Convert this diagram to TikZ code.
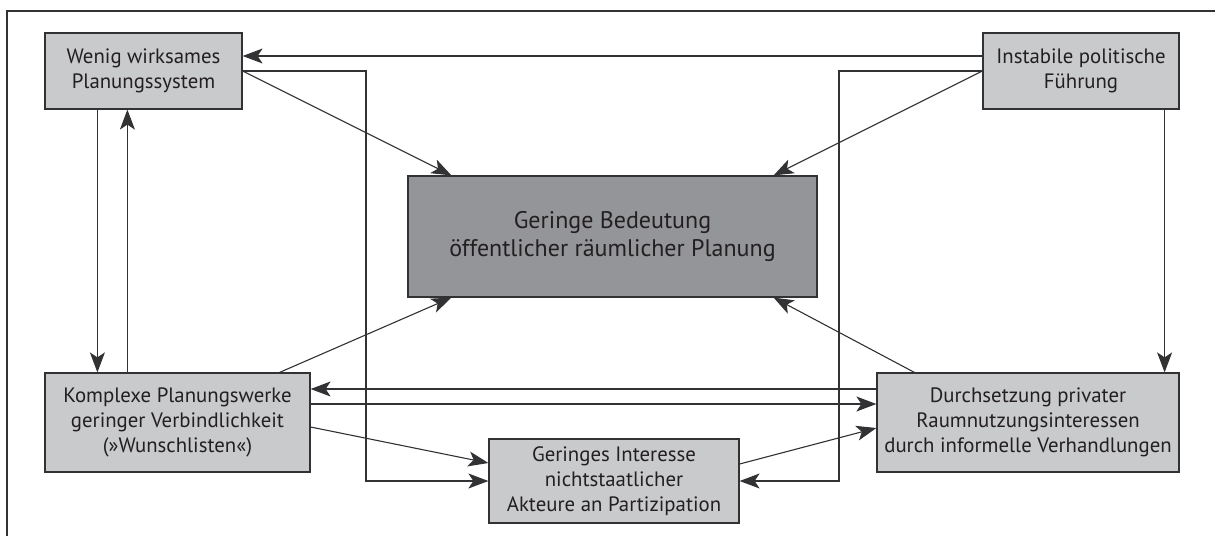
\documentclass[tikz,border=0pt]{standalone}
\usepackage{fontspec}
\setmainfont{PT Sans}
\usetikzlibrary{arrows.meta}

\definecolor{boxgray}{RGB}{201,202,204}
\definecolor{midgray}{RGB}{148,149,153}
\definecolor{linegray}{RGB}{50,50,52}
\definecolor{textgray}{RGB}{35,31,32}

\begin{document}
\begin{tikzpicture}[x=0.5pt, y=-0.5pt,
    box/.style={draw=linegray, line width=0.6pt, fill=boxgray, text=textgray,
        align=center, inner sep=0pt, font=\fontsize{10.4}{12.6}\selectfont},
    arr/.style={draw=linegray, line width=0.55pt,
        -{Stealth[length=10pt, width=7.5pt, inset=2.5pt]}}]
    \useasboundingbox (0,0) rectangle (1215,536);
    % Frame
    \draw[linegray, line width=0.6pt] (7,536) -- (7,11) -- (1215,11);
    % Boxes
    \node[box, minimum width=98.5pt, minimum height=38pt] (wenig) at (143.5,71)
        {Wenig wirksames\\Planungssystem};
    \node[box, minimum width=98pt, minimum height=38pt] (instabil) at (1081,71)
        {Instabile politische\\Führung};
    \node[box, fill=midgray, minimum width=204.5pt, minimum height=60.5pt,
        font=\fontsize{12}{14.2}\selectfont] (bedeutung) at (612.5,236.5)
        {Geringe Bedeutung\\öffentlicher räumlicher Planung};
    \node[box, minimum width=132.5pt, minimum height=49.5pt] (komplex) at (177.5,422.5)
        {Komplexe Planungswerke\\geringer Verbindlichkeit\\(»Wunschlisten«)};
    \node[box, minimum width=151pt, minimum height=49.5pt] (privat) at (1028,422.5)
        {Durchsetzung privater\\Raumnutzungsinteressen\\durch informelle Verhandlungen};
    \node[box, minimum width=125pt, minimum height=42pt] (interesse) at (614,481)
        {Geringes Interesse\\nichtstaatlicher\\Akteure an Partizipation};
    % Arrows from the top row
    \draw[arr] (instabil.west |- 0,56) -- (wenig.east |- 0,56);
    \draw[arr] (instabil.west) -| (839,481) -- (interesse.east);
    \draw[arr] (wenig.east) -| (366,481) -- (interesse.west);
    \draw[arr] (wenig.east) -- ([xshift=22pt]bedeutung.north west);
    \draw[arr] (instabil.west) -- ([xshift=-22pt]bedeutung.north east);
    \draw[arr] ([xshift=26.5pt]wenig.south west) -- ([xshift=26.5pt]komplex.north west);
    \draw[arr] ([xshift=41.5pt]komplex.north west) -- ([xshift=41.5pt]wenig.south west);
    \draw[arr] ([xshift=-7.5pt]instabil.south east) -- ([xshift=-7.5pt]privat.north east);
    % Arrows from the bottom row
    \draw[arr] ([xshift=-15.5pt]komplex.north east) -- ([xshift=22pt]bedeutung.south west);
    \draw[arr] ([xshift=19pt]privat.north west) -- ([xshift=-22pt]bedeutung.south east);
    \draw[arr] ([yshift=16.75pt]privat.west) -- ([yshift=16.75pt]komplex.east);
    \draw[arr] ([yshift=9.25pt]komplex.east) -- ([yshift=9.25pt]privat.west);
    \draw[arr] ([yshift=-2.25pt]komplex.east) -- ([yshift=9pt]interesse.west);
    \draw[arr] ([yshift=8.5pt]interesse.east) -- ([yshift=-2.75pt]privat.west);
\end{tikzpicture}
\end{document}
